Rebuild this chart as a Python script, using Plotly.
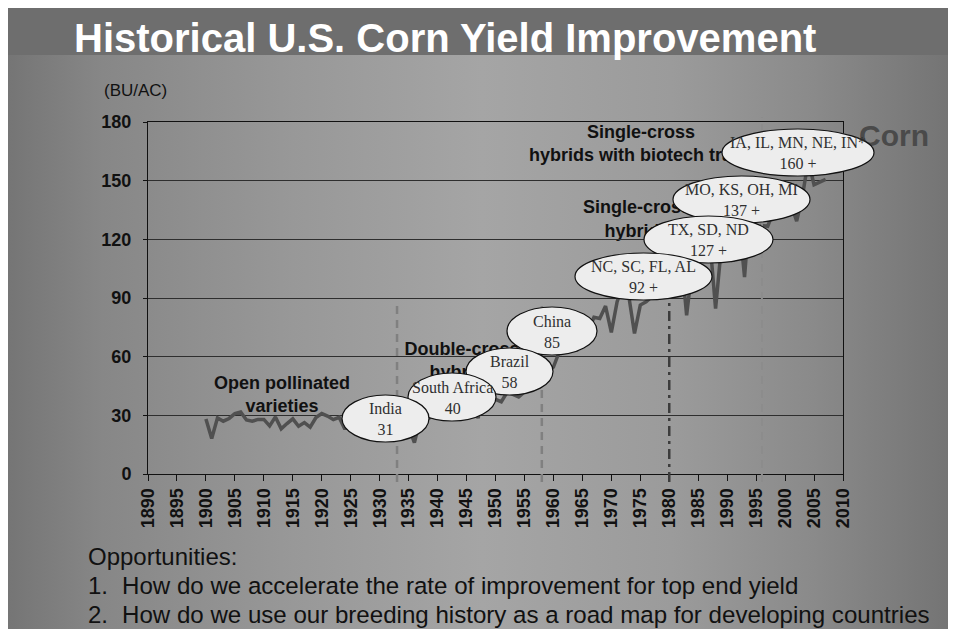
import plotly.graph_objects as go

# ---------------- data ----------------
years = list(range(1900, 2008))
yields = [
    28.1, 18.2, 28.7, 27.0, 28.4, 30.9, 31.7, 27.6, 27.0, 27.9,   # 1900s
    27.9, 24.6, 29.2, 23.1, 25.8, 28.2, 24.4, 26.3, 24.0, 28.9,   # 1910s
    30.9, 29.6, 27.8, 29.0, 22.9, 28.4, 26.8, 28.1, 27.4, 26.1,   # 1920s
    20.5, 24.5, 26.5, 22.6, 18.7, 24.0, 16.1, 28.2, 27.7, 29.4,   # 1930s
    28.9, 31.2, 35.4, 32.6, 33.0, 32.7, 36.7, 28.6, 43.0, 38.2,   # 1940s
    38.2, 36.9, 41.8, 40.7, 39.4, 42.0, 47.4, 48.3, 52.8, 53.1,   # 1950s
    54.7, 62.4, 64.7, 67.9, 62.9, 74.1, 73.1, 80.1, 79.5, 85.9,   # 1960s
    72.4, 88.1, 97.0, 91.3, 71.9, 86.4, 88.0, 90.8, 101.0, 109.5, # 1970s
    91.0, 108.9, 113.2, 81.1, 106.7, 118.0, 119.4, 119.8, 84.6, 116.3,  # 1980s
    118.5, 108.6, 131.5, 100.7, 138.6, 113.5, 127.1, 126.7, 134.4, 133.8,  # 1990s
    136.9, 138.2, 129.3, 142.2, 160.3, 147.9, 149.1, 150.7,        # 2000s
]

y_tick_vals = [0, 30, 60, 90, 120, 150, 180]
x_tick_vals = list(range(1890, 2011, 5))

era_years = [1933, 1958, 1980, 1996]
era_labels = ["Open pollinated<br>varieties", "Double-cross<br>hybrids",
              "Single-cross<br>hybrids", "Single-cross<br>hybrids with biotech traits"]

regions = ["India", "South Africa", "Brazil", "China", "NC, SC, FL, AL",
           "TX, SD, ND", "MO, KS, OH, MI", "IA, IL, MN, NE, IN*"]
region_yields = ["31", "40", "58", "85", "92 +", "127 +", "137 +", "160 +"]

title_text = "Historical U.S. Corn Yield Improvement"
unit_text = "(BU/AC)"
crop_text = "Corn"
notes = ["Opportunities:",
         "How do we accelerate the rate of improvement for top end yield",
         "How do we use our breeding history as a road map for developing countries"]

# ---------------- layout ----------------
# The page has an 8px body margin, so the figure is 940x621 and sits at (8, 8)
# in the 956x637 window. Positions below are written in window pixels.
W, H = 940, 621
OFF = 8


def fx(px):
    return px - OFF


def fy(py):
    return py - OFF


BAND = fy(55)  # bottom of the dark title band

SANS = "Liberation Sans, Arial, sans-serif"
SERIF = "Liberation Serif, Times New Roman, serif"

fig = go.Figure()

# background: gradient slide + dark title band
fig.add_trace(go.Scatter(
    x=[0, W, W, 0, 0], y=[BAND, BAND, H, H, BAND],
    mode="lines", fill="toself", line=dict(width=0),
    fillgradient=dict(type="horizontal", start=0, stop=W + 8,
                      colorscale=[[0, "#757575"], [0.1, "#878787"], [0.3, "#989898"],
                                  [0.5, "#a5a5a5"], [0.7, "#9b9b9b"], [0.85, "#8a8a8a"],
                                  [1, "#737373"]]),
    hoverinfo="skip", showlegend=False, xaxis="x", yaxis="y"))
fig.add_trace(go.Scatter(
    x=[0, W, W, 0, 0], y=[0, 0, BAND, BAND, 0],
    mode="lines", fill="toself", fillcolor="#6e6e6e", line=dict(width=0),
    hoverinfo="skip", showlegend=False, xaxis="x", yaxis="y"))

# era labels + crop label (drawn beneath the ellipses)
label_pos = [(282, 396), (462, 362), (637, 220.5), (641, 145)]
fig.add_trace(go.Scatter(
    x=[fx(p[0]) for p in label_pos], y=[fy(p[1]) for p in label_pos],
    mode="text", text=era_labels, textposition="middle center",
    textfont=dict(family=SANS, size=18, color="#111111", weight="bold"),
    cliponaxis=False, hoverinfo="skip", showlegend=False, xaxis="x", yaxis="y"))
fig.add_trace(go.Scatter(
    x=[fx(894)], y=[fy(138)], mode="text", text=[crop_text],
    textposition="middle center",
    textfont=dict(family=SANS, size=30, color="#4a4a4a", weight="bold"),
    cliponaxis=False, hoverinfo="skip", showlegend=False, xaxis="x", yaxis="y"))

# yield line
fig.add_trace(go.Scatter(
    x=years, y=yields, mode="lines",
    line=dict(color="#505050", width=3.5),
    showlegend=False, xaxis="x2", yaxis="y2"))

shapes = []
# vertical era dividers
div_styles = [
    dict(color="#808080", width=2.5, dash="8px,6px", top=302),
    dict(color="#808080", width=2.5, dash="8px,6px", top=302),
    dict(color="#3c3c3c", width=2.5, dash="10px,5px,3px,5px", top=280),
    dict(color="#8c8c8c", width=2, dash="8px,6px", top=117),
]
for yr, st in zip(era_years, div_styles):
    shapes.append(dict(type="line", xref="x2", yref="y", x0=yr, x1=yr,
                       y0=fy(482), y1=fy(st["top"]), layer="above",
                       line=dict(color=st["color"], width=st["width"], dash=st["dash"])))

# ellipses (window pixel boxes), drawn from top-right to bottom-left
ellipse_boxes = [
    (342, 429, 395, 442),  # India
    (408, 496, 373, 421),  # South Africa
    (466, 553, 348, 395),  # Brazil
    (507, 597, 307, 355),  # China
    (575, 712, 253, 300),  # NC...
    (644, 773, 216, 263),  # TX...
    (673, 810, 176, 223),  # MO...
    (722, 874, 129, 176),  # IA...
]
for (x0, x1, y0, y1) in reversed(ellipse_boxes):
    shapes.append(dict(type="circle", xref="x", yref="y",
                       x0=fx(x0), x1=fx(x1), y0=fy(y0), y1=fy(y1), layer="above",
                       fillcolor="#ededed", line=dict(color="#111111", width=1.2)))

annotations = []
for (x0, x1, y0, y1), name, val in zip(ellipse_boxes, regions, region_yields):
    annotations.append(dict(xref="x", yref="y", x=fx((x0 + x1) / 2), y=fy((y0 + y1) / 2 + 0.5),
                            text=f"{name}<br>{val}", showarrow=False,
                            xanchor="center", yanchor="middle",
                            font=dict(family=SERIF, size=16, color="#303030")))

annotations.append(dict(xref="x", yref="y", x=fx(72), y=fy(37.5), text=title_text,
                        showarrow=False, xanchor="left", yanchor="middle",
                        font=dict(family=SANS, size=40, color="white", weight="bold")))
annotations.append(dict(xref="x", yref="y", x=fx(102), y=fy(90), text=unit_text,
                        showarrow=False, xanchor="left", yanchor="middle",
                        font=dict(family=SANS, size=17, color="#111111")))
annotations.append(dict(xref="x", yref="y", x=fx(86), y=fy(556), text=notes[0],
                        showarrow=False, xanchor="left", yanchor="middle",
                        font=dict(family=SANS, size=24, color="#111111")))
for i, line in enumerate(notes[1:]):
    yy = fy(585 + 29 * i)
    annotations.append(dict(xref="x", yref="y", x=fx(86), y=yy, text=f"{i + 1}.",
                            showarrow=False, xanchor="left", yanchor="middle",
                            font=dict(family=SANS, size=24, color="#111111")))
    annotations.append(dict(xref="x", yref="y", x=fx(120), y=yy, text=line,
                            showarrow=False, xanchor="left", yanchor="middle",
                            font=dict(family=SANS, size=24.1, color="#111111")))

tick_font = dict(family=SANS, size=18, color="#111111", weight="bold")

fig.update_layout(
    template="none",
    width=W, height=H,
    margin=dict(l=0, r=0, t=0, b=0, pad=0, autoexpand=False),
    paper_bgcolor="#8a8a8a", plot_bgcolor="rgba(0,0,0,0)",
    showlegend=False,
    xaxis=dict(domain=[0, 1], range=[0, W], visible=False, fixedrange=True,
               automargin=False),
    yaxis=dict(domain=[0, 1], range=[H, 0], visible=False, fixedrange=True,
               automargin=False),
    xaxis2=dict(domain=[fx(148) / W, fx(843) / W], range=[1890, 2010], anchor="y2",
                automargin=False,
                tickmode="array", tickvals=x_tick_vals, tickangle=-90,
                ticks="outside", ticklen=6, tickcolor="#111111",
                showline=True, linecolor="#111111", linewidth=1, mirror=True,
                showgrid=False, zeroline=False, tickfont=tick_font),
    yaxis2=dict(domain=[1 - fy(474) / H, 1 - fy(122) / H], range=[0, 180], anchor="x2",
                automargin=False,
                tickmode="array", tickvals=y_tick_vals,
                ticks="outside", ticklen=4, tickcolor="#111111",
                showline=True, linecolor="#111111", linewidth=1, mirror=True,
                showgrid=True, gridcolor="#2e2e2e", gridwidth=1,
                zeroline=False, tickfont=tick_font, ticklabelstandoff=8),
    shapes=shapes,
    annotations=annotations,
)

fig.write_html("out.html", config={"displayModeBar": False})
